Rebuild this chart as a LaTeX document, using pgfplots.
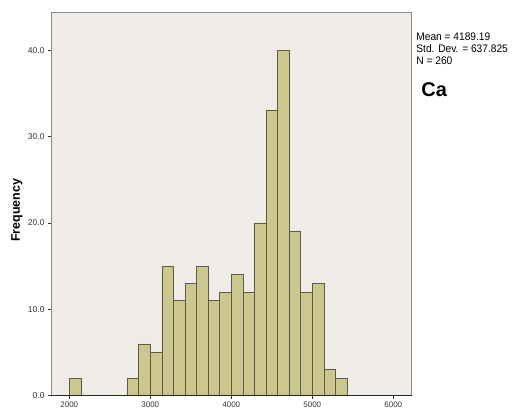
\documentclass[border=0pt]{standalone}
\usepackage{pgfplots}
\pgfplotsset{compat=1.18}
\usepackage{fontspec}
\setmainfont{Liberation Sans}
\newfontfamily\condensed[FakeStretch=0.93]{Liberation Sans}
\definecolor{bgc}{HTML}{EFECE8}
\definecolor{barc}{HTML}{CCC68F}
\definecolor{edgec}{HTML}{5E5A45}
\definecolor{framec}{HTML}{8C8C8C}
\begin{document}
\begin{tikzpicture}
\begin{axis}[
  scale only axis,
  width=360.7bp, height=383.4bp,
  at={(0,0)}, anchor=south west,
  xmin=1774, xmax=6227, ymin=0, ymax=44.4,
  axis background/.style={fill=bgc},
  axis line style={framec, line width=0.8bp},
  xtick={2000,3000,4000,5000,6000},
  ytick={0,10,20,30,40},
  xtick pos=bottom, ytick pos=left,
  tick align=outside, major tick length=3bp,
  tick style={black!80, line width=0.6bp},
  xticklabel style={/pgf/number format/1000 sep={}, font=\fontsize{8}{9}\selectfont, text=black!80},
  yticklabel style={/pgf/number format/fixed, /pgf/number format/fixed zerofill, /pgf/number format/precision=1, font=\fontsize{8.5}{9}\selectfont, text=black!80},
  /pgf/number format/assume math mode=true,
  ylabel={\bfseries Frequency},
  ylabel style={at={(axis description cs:0,0.484)}, anchor=center, yshift=34bp, font=\fontsize{12.5}{14}\selectfont},
  clip=false,
]
\addplot[ybar interval, fill=barc, draw=edgec, line width=0.7bp] coordinates {
(2000,2) (2142.86,2)
};
\addplot[ybar interval, fill=barc, draw=edgec, line width=0.7bp] coordinates {
(2714.29,2) (2857.14,6) (3000,5) (3142.86,15) (3285.71,11) (3428.57,13)
(3571.43,15) (3714.29,11) (3857.14,12) (4000,14) (4142.86,12) (4285.71,20)
(4428.57,33) (4571.43,40) (4714.29,19) (4857.14,12) (5000,13) (5142.86,3)
(5285.71,2) (5428.57,2)
};
\draw[black!85, line width=0.9bp] (rel axis cs:0,0) -- (rel axis cs:1,0);
\node[anchor=north west, align=left, inner sep=0pt, font=\condensed\fontsize{11}{12.5}\selectfont] at (rel axis cs:1,0.948) [xshift=4.5bp] {Mean = 4189.19\\Std. Dev. = 637.825\\N = 260};
\node[anchor=west, inner sep=0pt, font=\fontsize{20}{22}\selectfont\bfseries] at (rel axis cs:1,0.797) [xshift=9.5bp] {Ca};
\end{axis}
\path[use as bounding box] (-51bp,-16.3bp) rectangle (463bp,395.7bp);
\end{tikzpicture}
\end{document}
